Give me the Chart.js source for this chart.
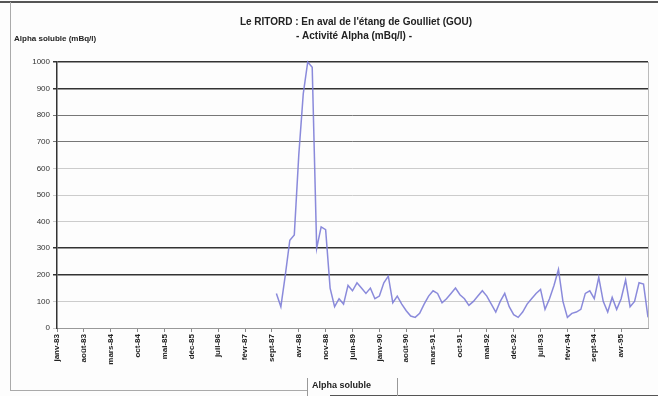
<!DOCTYPE html>
<html>
<head>
<meta charset="utf-8">
<script src="https://cdn.jsdelivr.net/npm/chart.js@4/dist/chart.umd.min.js"></script>
<style>
  html, body { margin: 0; padding: 0; background: #fdfdfd; }
  #wrap { width: 658px; height: 396px; position: relative; }
</style>
</head>
<body>
<div id="wrap"><canvas id="chart"></canvas></div>
<script>
// dates affichées sous l'axe (une tous les 6 relevés)
const tickLabels = ['janv-83', 'août-83', 'mars-84', 'oct-84', 'mai-85', 'déc-85',
  'juil-86', 'févr-87', 'sept-87', 'avr-88', 'nov-88', 'juin-89', 'janv-90',
  'août-90', 'mars-91', 'oct-91', 'mai-92', 'déc-92', 'juil-93', 'févr-94',
  'sept-94', 'avr-95'];
const yTicks = [0, 100, 200, 300, 400, 500, 600, 700, 800, 900, 1000];
// premier relevé disponible (rang sur l'axe des dates)
const firstIndex = 49;
// Alpha soluble (mBq/l)
const alphaSoluble = [130, 80, 200, 330, 350, 650, 880, 1000, 980, 300,
  380, 370, 150, 80, 110, 90, 160, 140, 170, 150,
  130, 150, 110, 120, 170, 195, 95, 120, 90, 65,
  45, 40, 55, 90, 120, 140, 130, 95, 110, 130,
  150, 125, 110, 85, 100, 120, 140, 120, 90, 60,
  100, 130, 80, 50, 40, 60, 90, 110, 130, 145,
  70, 110, 160, 220, 100, 40, 55, 60, 70, 130,
  140, 110, 190, 100, 60, 115, 70, 110, 180, 80,
  100, 170, 165, 40];

const points = alphaSoluble.map((v, i) => ({ x: firstIndex + i, y: v }));

// lignes de grille plus ou moins marquées comme sur l'original
const darkLines = [1000, 900, 300, 200];
const midLines = [800, 700];

const decor = {
  id: 'decor',
  beforeDraw(chart) {
    const c = chart.ctx;
    c.save();
    // cadre extérieur
    c.strokeStyle = '#555';
    c.lineWidth = 2;
    c.beginPath(); c.moveTo(0, 2); c.lineTo(658, 2); c.stroke();
    c.strokeStyle = '#aaa';
    c.lineWidth = 1;
    c.beginPath(); c.moveTo(10.5, 2); c.lineTo(10.5, 390); c.stroke();
    c.beginPath(); c.moveTo(10, 390.5); c.lineTo(307, 390.5); c.stroke();
    c.strokeStyle = '#555';
    c.beginPath(); c.moveTo(330, 395.5); c.lineTo(658, 395.5); c.stroke();
    // bord droit de la zone de tracé
    const a = chart.chartArea;
    c.strokeStyle = '#bbb';
    c.beginPath(); c.moveTo(a.right + 0.5, a.top); c.lineTo(a.right + 0.5, a.bottom); c.stroke();
    c.restore();
  },
  afterDraw(chart) {
    const c = chart.ctx;
    c.save();
    c.fillStyle = '#222';
    c.textAlign = 'center';
    c.textBaseline = 'middle';
    c.font = 'bold 10px "Liberation Sans", Arial, sans-serif';
    c.fillText("Le RITORD : En aval de l'étang de Goulliet (GOU)", 356, 22);
    c.fillText('- Activité Alpha (mBq/l) -', 354, 36);
    c.textAlign = 'left';
    c.font = 'bold 8px "Liberation Sans", Arial, sans-serif';
    c.fillText('Alpha soluble (mBq/l)', 14, 39);
    // légende
    c.strokeStyle = '#999';
    c.lineWidth = 1;
    c.beginPath(); c.moveTo(307.5, 378); c.lineTo(307.5, 396); c.stroke();
    c.beginPath(); c.moveTo(397.5, 378); c.lineTo(397.5, 396); c.stroke();
    c.font = 'bold 9px "Liberation Sans", Arial, sans-serif';
    c.fillText('Alpha soluble', 312, 386);
    c.restore();
  }
};

new Chart(document.getElementById('chart'), {
  type: 'line',
  data: {
    datasets: [{
      label: 'Alpha soluble',
      data: points,
      borderColor: 'rgba(125, 125, 215, 0.9)',
      borderWidth: 1.5,
      pointRadius: 0,
      tension: 0,
      fill: false,
      clip: { left: 0, top: 3, right: 0, bottom: 0 }
    }]
  },
  options: {
    responsive: true,
    maintainAspectRatio: false,
    animation: false,
    layout: { padding: { left: 10, top: 62, right: 10, bottom: 0 } },
    plugins: {
      legend: { display: false },
      tooltip: { enabled: false }
    },
    scales: {
      x: {
        type: 'linear',
        min: 0,
        max: 132,
        afterFit: (s) => { s.height = 68; },
        afterBuildTicks: (s) => { s.ticks = tickLabels.map((_, i) => ({ value: i * 6 })); },
        border: { color: '#999', width: 1 },
        grid: { drawOnChartArea: false, drawTicks: true, tickLength: 4, color: '#888' },
        ticks: {
          autoSkip: false,
          maxRotation: 90,
          minRotation: 90,
          padding: 2,
          color: '#222',
          font: { family: '"Liberation Sans", Arial, sans-serif', size: 8, weight: 'bold' },
          callback: (v) => tickLabels[v / 6] ?? ''
        }
      },
      y: {
        min: 0,
        max: 1000,
        afterFit: (s) => { s.width = 47; },
        afterBuildTicks: (s) => { s.ticks = yTicks.map(v => ({ value: v })); },
        border: { color: '#333', width: 1.5 },
        grid: {
          tickLength: 4,
          color: (ctx) => darkLines.includes(ctx.tick.value) ? '#333'
            : midLines.includes(ctx.tick.value) ? '#777' : '#ccc',
          lineWidth: (ctx) => darkLines.includes(ctx.tick.value) ? 1.5 : 1
        },
        ticks: {
          padding: 3,
          color: '#333',
          font: { family: '"Liberation Sans", Arial, sans-serif', size: 8 },
          callback: (v) => String(v)
        }
      }
    }
  },
  plugins: [decor]
});
</script>
</body>
</html>
